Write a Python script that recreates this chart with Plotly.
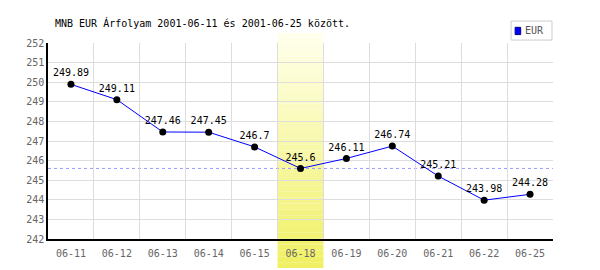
import plotly.graph_objects as go

dates = ["06-11", "06-12", "06-13", "06-14", "06-15", "06-18", "06-19", "06-20", "06-21", "06-22", "06-25"]
eur = [249.89, 249.11, 247.46, 247.45, 246.7, 245.6, 246.11, 246.74, 245.21, 243.98, 244.28]
labels = ["249.89", "249.11", "247.46", "247.45", "246.7", "245.6", "246.11", "246.74", "245.21", "243.98", "244.28"]
series_name = "EUR"
highlight = "06-18"
ref_value = 245.6
title = "MNB EUR Árfolyam 2001-06-11 és 2001-06-25 között."
y_ticks = list(range(242, 253))

FONT = "DejaVu Sans Mono"

fig = go.Figure()
fig.add_trace(go.Scatter(
    x=dates, y=eur, mode="lines+markers+text", text=labels,
    textposition="top center", textfont=dict(family=FONT, size=10, color="#000"),
    line=dict(color="#0000ff", width=1),
    marker=dict(color="#000", size=7),
    name=series_name, showlegend=False, cliponaxis=False,
))

shapes = []
# gradient highlight band
hi = dates.index(highlight)
n = 40
y_top, y_bot = 1.051, -0.148
c_top = (255, 255, 235)
c_bot = (240, 240, 100)
for i in range(n):
    t = i / (n - 1)
    c = tuple(int(round(c_top[k] + (c_bot[k] - c_top[k]) * t)) for k in range(3))
    y0 = y_top + (y_bot - y_top) * i / n
    y1 = y_top + (y_bot - y_top) * (i + 1) / n
    shapes.append(dict(type="rect", xref="x", yref="paper", x0=hi - 0.5, x1=hi + 0.5,
                       y0=y1, y1=y0, line=dict(width=0), fillcolor="rgb(%d,%d,%d)" % c,
                       layer="between"))
shapes.append(dict(type="line", xref="paper", yref="y", x0=0, x1=1, y0=ref_value, y1=ref_value,
                   line=dict(color="#9999ff", width=1, dash="3px,3px"), layer="between"))
# legend box
shapes.append(dict(type="rect", xref="paper", yref="paper", x0=0.917, x1=0.998, y0=1.015, y1=1.112,
                   line=dict(color="#cccccc", width=1), fillcolor="white"))
shapes.append(dict(type="rect", xref="paper", yref="paper", x0=0.925, x1=0.936, y0=1.043, y1=1.08,
                   line=dict(color="#000080", width=1), fillcolor="#0000ff"))

fig.update_layout(
    width=600, height=270,
    margin=dict(l=48, r=47, t=43, b=31),
    paper_bgcolor="white", plot_bgcolor="white",
    font=dict(family=FONT, size=10, color="#555"),
    shapes=shapes,
    annotations=[
        dict(text=title, xref="paper", yref="paper", x=(53 - 48) / 505, y=(239 - 23) / 196,
             xanchor="left", yanchor="middle", showarrow=False,
             font=dict(family=FONT, size=10, color="#000")),
        dict(text=series_name, xref="paper", yref="paper", x=0.94, y=1.062,
             xanchor="left", yanchor="middle", showarrow=False,
             font=dict(family=FONT, size=10, color="#555")),
    ],
    xaxis=dict(type="category", range=[-0.5, 10.5], tickson="boundaries",
               showgrid=True, gridcolor="#dddddd", gridwidth=1,
               showline=True, linecolor="#000", linewidth=1.5,
               ticks="", ticklabelstandoff=4, tickfont=dict(family=FONT, size=10, color="#666")),
    yaxis=dict(range=[242, 252], tickvals=y_ticks, showgrid=True, gridcolor="#dddddd", gridwidth=1,
               showline=True, linecolor="#000", linewidth=1.5, zeroline=False,
               ticks="", tickfont=dict(family=FONT, size=10, color="#666")),
)

fig.write_html("out.html")
